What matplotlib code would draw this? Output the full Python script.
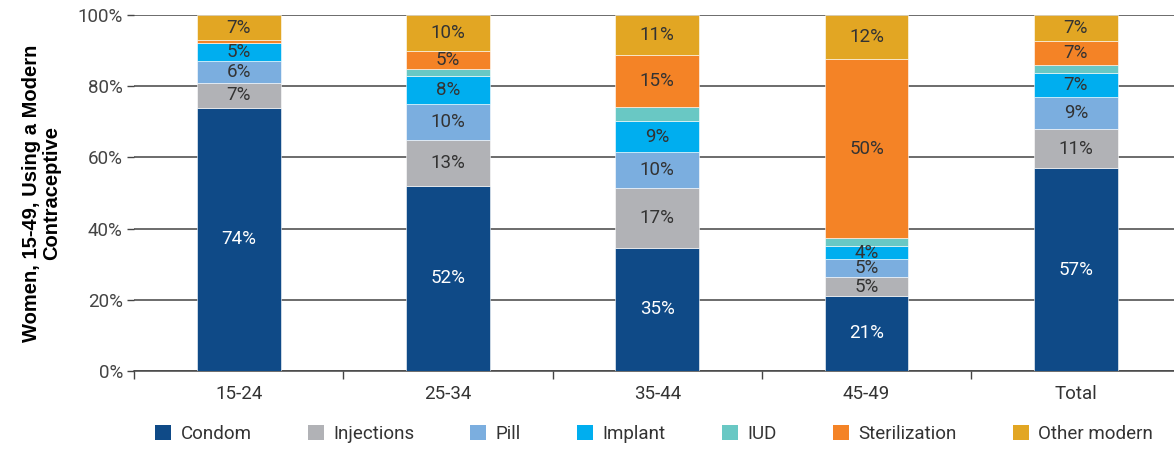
import numpy as np
import matplotlib.pyplot as plt
from matplotlib.patches import Patch

categories = ['15-24', '25-34', '35-44', '45-49', 'Total']
methods = ['Condom', 'Injections', 'Pill', 'Implant', 'IUD', 'Sterilization', 'Other modern']

condom = [73.9, 52.0, 34.6, 21.1, 56.9]
injections = [7.0, 12.9, 16.9, 5.2, 11.0]
pill = [6.2, 10.1, 10.0, 5.1, 9.2]
implant = [5.0, 7.9, 8.7, 3.7, 6.7]
iud = [0.0, 2.0, 4.0, 2.2, 2.1]
sterilization = [0.8, 5.1, 14.7, 50.4, 6.9]
other_modern = [7.0, 10.1, 11.1, 12.2, 7.2]

series = [condom, injections, pill, implant, iud, sterilization, other_modern]
colors = ['#0F4A87', '#B1B2B6', '#7BAEDF', '#00AEEF', '#69C8C4', '#F48326', '#E2A623']

plt.rcParams['font.family'] = ['Roboto', 'DejaVu Sans']

fig = plt.figure(figsize=(11.74, 4.49), dpi=100)
ax = fig.add_axes([134 / 1174, 78 / 449, 1046.6 / 1174, 356 / 449])

x = np.arange(len(categories))
bottom = np.zeros(len(categories))
for name, vals, col in zip(methods, series, colors):
    vals = np.array(vals)
    ax.bar(x, vals, 0.4, bottom=bottom, color=col, edgecolor='white',
           linewidth=0.4, zorder=3)
    if name != 'IUD':
        for xi, v, b in zip(x, vals, bottom):
            if v >= 3:
                ax.text(xi, b + v / 2, f"{round(v)}%", ha='center', va='center',
                        fontsize=13.5, color='white' if name == 'Condom' else '#333333',
                        zorder=4)
    bottom += vals

ax.set_xlim(-0.5, 4.5)
ax.set_ylim(0, 100)
ax.set_yticks(range(0, 101, 20))
ax.set_yticklabels([f"{v}%" for v in range(0, 101, 20)], fontsize=13.5, color='#444444')
ax.set_xticks(x)
ax.set_xticklabels(categories, fontsize=13.5, color='#333333')
ax.tick_params(axis='x', which='major', length=0, pad=10)
ax.set_xticks(np.arange(-0.5, 5, 1), minor=True)
ax.tick_params(axis='x', which='minor', length=6, color='#444444', width=1)
ax.tick_params(axis='y', length=5, color='#444444', width=1, pad=3)

ax.yaxis.grid(True, color='#444444', linewidth=1.1, zorder=0)
for s in ['top', 'right', 'left']:
    ax.spines[s].set_visible(False)
ax.spines['bottom'].set_color('#444444')
ax.spines['bottom'].set_linewidth(1.1)

ax.set_ylabel("Women, 15-49, Using a Modern\nContraceptive", fontsize=14.5,
              fontweight='bold', family=['Liberation Sans', 'DejaVu Sans'],
              labelpad=12, linespacing=1.05)

handles = [Patch(facecolor=c, label=m) for m, c in zip(methods, colors)]
fig.legend(handles=handles, loc='center', bbox_to_anchor=(654 / 1174, 1 - 434 / 449),
           bbox_transform=fig.transFigure, ncol=7, frameon=False, fontsize=13.5,
           handlelength=0.85, handleheight=0.85, handletextpad=0.5,
           columnspacing=3.0, labelcolor='#333333', borderpad=0)

fig.savefig('out.png', dpi=100)
